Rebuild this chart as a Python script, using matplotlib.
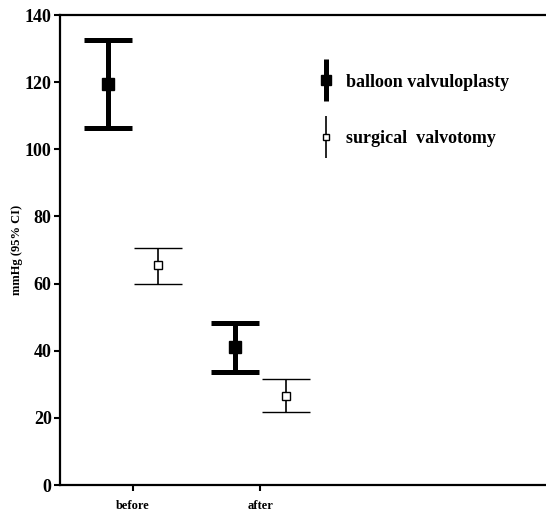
import matplotlib
matplotlib.use('Agg')
import matplotlib.pyplot as plt
from matplotlib.lines import Line2D
from matplotlib.legend_handler import HandlerTuple
import numpy as np

# Values (mmHg, mean with 95% CI)
categories = ['before', 'after']
balloon_mean = [119.5, 41.0]
balloon_lo = [106.3, 33.8]
balloon_hi = [132.6, 48.2]
surgical_mean = [65.5, 26.5]
surgical_lo = [60.0, 21.7]
surgical_hi = [70.7, 31.6]

plt.rcParams['font.family'] = ['Liberation Serif', 'DejaVu Serif']
plt.rcParams['font.weight'] = 'bold'

fig = plt.figure(figsize=(5.46, 5.12), dpi=100)
ax = fig.add_axes([0.1099, 0.0527, 0.8901, 0.918])

x = np.arange(1, len(categories) + 1)
off = 0.2

b_mean = np.array(balloon_mean)
b_err = [b_mean - np.array(balloon_lo), np.array(balloon_hi) - b_mean]
ax.errorbar(x - off, b_mean, yerr=b_err, fmt='s', color='black',
            markersize=8, elinewidth=3.6, capsize=17, capthick=3.6)

s_mean = np.array(surgical_mean)
s_err = [s_mean - np.array(surgical_lo), np.array(surgical_hi) - s_mean]
ax.errorbar(x + off, s_mean, yerr=s_err, fmt='s', color='black',
            markerfacecolor='white', markeredgewidth=1.0, markersize=6,
            elinewidth=1.2, capsize=17, capthick=1.2)

ax.set_xlim(0.425, 4.25)
ax.set_ylim(0, 140)
ax.set_yticks(np.arange(0, 141, 20))
ax.set_xticks(x)
ax.set_xticklabels(categories, fontsize=9, fontweight='bold')
ax.tick_params(axis='y', labelsize=13, length=4, width=1.5, pad=2)
ax.tick_params(axis='x', length=4, width=1.5, pad=7)
for lab in ax.get_yticklabels():
    lab.set_fontweight('bold')

ax.spines['right'].set_visible(False)
for s in ['left', 'bottom', 'top']:
    ax.spines[s].set_linewidth(1.6)

ax.set_ylabel('mmHg (95% CI)', fontsize=9, fontweight='bold', labelpad=1)

# legend proxies: vertical bar with marker
h_b = (Line2D([], [], marker='|', color='black', markersize=30, markeredgewidth=3.6, linestyle='none'),
       Line2D([], [], marker='s', color='black', markersize=7, linestyle='none'))
h_s = (Line2D([], [], marker='|', color='black', markersize=30, markeredgewidth=1.2, linestyle='none'),
       Line2D([], [], marker='s', color='black', markerfacecolor='white', markeredgewidth=1.0,
              markersize=5, linestyle='none'))
ax.legend([h_b, h_s], ['balloon valvuloplasty', 'surgical  valvotomy'],
          handler_map={tuple: HandlerTuple(ndivide=1, pad=0)},
          loc='upper left', bbox_to_anchor=(0.495, 0.91), frameon=False,
          prop={'size': 13, 'weight': 'bold'}, handlelength=1.0,
          handletextpad=0.6, labelspacing=2.2)

fig.savefig('out.png', dpi=100)
